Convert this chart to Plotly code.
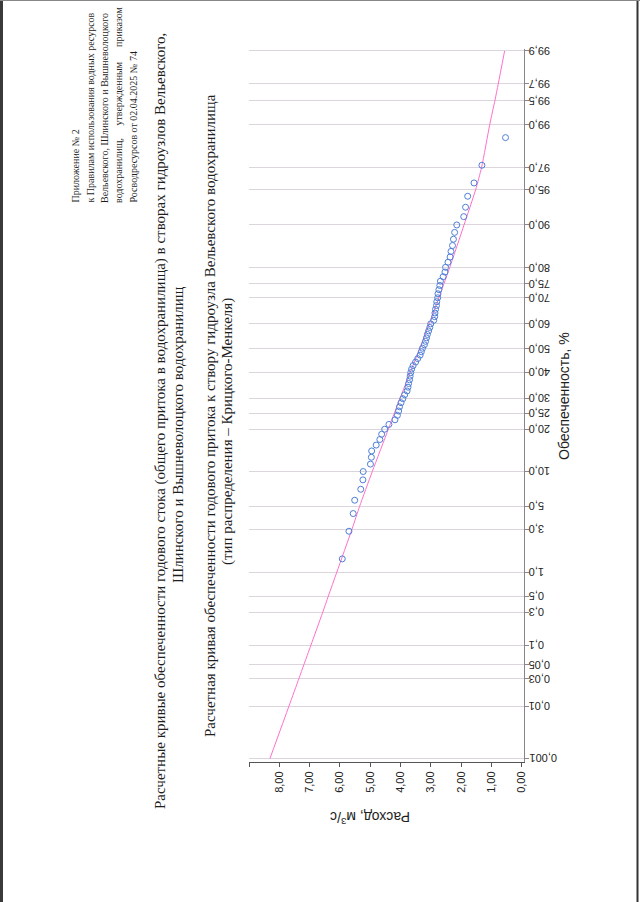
import plotly.graph_objects as go
from statistics import NormalDist

# ---------------- data ----------------
prob_ticks = [0.001, 0.01, 0.03, 0.05, 0.1, 0.3, 0.5, 1, 3, 5, 10, 20, 25, 30, 40,
              50, 60, 70, 75, 80, 90, 95, 97, 99, 99.5, 99.7, 99.9]
prob_labels = ["0,001", "0,01", "0,03", "0,05", "0,1", "0,3", "0,5", "1,0", "3,0", "5,0",
               "10,0", "20,0", "25,0", "30,0", "40,0", "50,0", "60,0", "70,0", "75,0",
               "80,0", "90,0", "95,0", "97,0", "99,0", "99,5", "99,7", "99,9"]

q_ticks = [0, 1, 2, 3, 4, 5, 6, 7, 8]
q_labels = ["0,00", "1,00", "2,00", "3,00", "4,00", "5,00", "6,00", "7,00", "8,00"]

# calculated Kritsky-Menkel curve, read at the grid probabilities
curve_prob = prob_ticks
curve_q = [8.31, 7.68, 7.35, 7.19, 6.96, 6.57, 6.38, 6.10, 5.60, 5.35,
           4.93, 4.40, 4.20, 4.02, 3.68, 3.36, 3.05, 2.73, 2.56, 2.37,
           1.90, 1.52, 1.32, 1.05, 0.88, 0.77, 0.56]

# empirical points (exceedance probability, %; discharge, m3/s)
obs_prob = [1.43, 2.86, 4.29, 5.71, 7.14, 8.57, 10.0, 11.43, 12.86, 14.29,
            15.71, 17.14, 18.57, 20.0, 21.43, 22.86, 24.29, 25.71, 27.14, 28.57,
            30.0, 31.43, 32.86, 34.29, 35.71, 37.14, 38.57, 40.0, 41.43, 42.86,
            44.29, 45.71, 47.14, 48.57, 50.0, 51.43, 52.86, 54.29, 55.71, 57.14,
            58.57, 60.0, 61.43, 62.86, 64.29, 65.71, 67.14, 68.57, 70.0, 71.43,
            72.86, 74.29, 75.71, 77.14, 78.57, 80.0, 81.43, 82.86, 84.29, 85.71,
            87.14, 88.57, 90.0, 91.43, 92.86, 94.29, 95.71, 97.14, 98.57]
obs_q = [5.92, 5.70, 5.56, 5.51, 5.31, 5.24, 5.23, 4.99, 4.96, 4.95,
         4.80, 4.68, 4.62, 4.52, 4.38, 4.18, 4.10, 4.06, 4.03, 3.98,
         3.92, 3.86, 3.78, 3.75, 3.73, 3.70, 3.68, 3.66, 3.63, 3.58,
         3.50, 3.43, 3.35, 3.31, 3.27, 3.21, 3.17, 3.14, 3.11, 3.07,
         3.03, 3.00, 2.90, 2.87, 2.86, 2.84, 2.81, 2.80, 2.77, 2.76,
         2.73, 2.70, 2.68, 2.59, 2.53, 2.51, 2.43, 2.36, 2.33, 2.28,
         2.25, 2.21, 2.14, 1.91, 1.85, 1.78, 1.57, 1.31, 0.53]

header_lines = [
    "Приложение № 2",
    "к Правилам использования водных ресурсов",
    "Вельевского, Шлинского и Вышневолоцкого",
    "водохранилищ,     утвержденным      приказом",
    "Росводресурсов от 02.04.2025 № 74",
]

# ---------------- probability scale ----------------
_nd = NormalDist()


def pscale(p):
    return _nd.inv_cdf(p / 100.0)


# ---------------- layout geometry (pixels) ----------------
W, H = 640, 902
L, R, T, B = 249, 116, 49, 140
PW, PH = W - L - R, H - T - B


def px(x):
    return (x - L) / PW


def py(y):
    return (H - B - y) / PH


fig = go.Figure()
fig.add_trace(go.Scatter(
    x=curve_q, y=[pscale(p) for p in curve_prob], mode="lines",
    line=dict(color="#ff70cc", width=1, shape="spline", smoothing=0.6),
    hoverinfo="skip"))
fig.add_trace(go.Scatter(
    x=obs_q, y=[pscale(p) for p in obs_prob], mode="markers",
    marker=dict(symbol="circle-open", size=6, color="#4f7fd6", line=dict(width=1)),
    hoverinfo="skip"))

axis_font = dict(family="Liberation Sans, Arial, sans-serif", size=11, color="#222222")

fig.update_xaxes(
    range=[9, -0.08], tickvals=q_ticks, ticktext=q_labels, tickangle=-90,
    ticks="outside", ticklen=4, tickcolor="#555555", showline=True, linecolor="#555555",
    linewidth=1, showgrid=False, zeroline=False, tickfont=axis_font, automargin=False,
    minor=dict(tickmode="array", tickvals=[9], ticks="outside", ticklen=4,
               tickcolor="#555555", showgrid=False))
fig.update_yaxes(
    range=[-4.30, 3.11], side="right", tickvals=[pscale(p) for p in prob_ticks],
    showticklabels=False, ticks="outside", ticklen=4, tickcolor="#888888",
    showline=True, linecolor="#888888", linewidth=1, showgrid=True,
    gridcolor="#dcd5de", gridwidth=1, zeroline=False, automargin=False)

serif = "Liberation Serif, Times New Roman, serif"
sans = "Liberation Sans, Arial, sans-serif"
tc = "#1e1e1e"
ann = []


def add(text, x, y, size, font, angle=-90, xa="center", ya="middle", align="center"):
    ann.append(dict(text=text, x=px(x), y=py(y), xref="paper", yref="paper",
                    showarrow=False, textangle=angle, xanchor=xa, yanchor=ya,
                    align=align, font=dict(family=font, size=size, color=tc)))


# probability tick labels (upside down, as on the rotated sheet)
for p, lab in zip(prob_ticks, prob_labels):
    ann.append(dict(text=lab, x=px(527.5), y=pscale(p), xref="paper", yref="y",
                    showarrow=False, textangle=180, xanchor="left", yanchor="middle",
                    font=axis_font))

# header block, one annotation per line
for i, line in enumerate(header_lines):
    add(line.replace(" ", "\u00a0"), 75 + i * 14.5, 205, 10, serif, ya="bottom")

add("Расчетные кривые обеспеченности годового стока (общего притока в водохранилища) "
    "в створах гидроузлов Вельевского,", 160, 421, 15, serif)
add("Шлинского и Вышневолоцкого водохранилищ", 178, 435, 15, serif)
add("Расчетная кривая обеспеченности годового притока к створу гидроузла "
    "Вельевского водохранилища", 210, 416, 15, serif)
add("(тип распределения – Крицкого-Менкеля)", 228, 432, 15, serif)

add("Обеспеченность, %", 564, 396, 14, sans)
add("Расход, м<sup>3</sup>/с", 370, 818, 14, sans, angle=180)

fig.update_layout(
    width=W, height=H, margin=dict(l=L, r=R, t=T, b=B, autoexpand=False),
    paper_bgcolor="white", plot_bgcolor="white", showlegend=False,
    annotations=ann,
    shapes=[
        dict(type="rect", xref="paper", yref="paper", x0=px(0), x1=px(3), y0=py(H), y1=py(0),
             fillcolor="#3a3a3a", line=dict(width=0), layer="above"),
        dict(type="rect", xref="paper", yref="paper", x0=px(636.5), x1=px(638.5), y0=py(H),
             y1=py(0), fillcolor="#333333", line=dict(width=0), layer="above"),
        dict(type="rect", xref="paper", yref="paper", x0=px(0), x1=px(640), y0=py(1),
             y1=py(0), fillcolor="#888888", line=dict(width=0), layer="above"),
    ])

fig.write_html("out.html",
               config={"displayModeBar": False},
               post_script="document.body.style.margin='0px';"
                           "document.body.style.overflow='hidden';")
